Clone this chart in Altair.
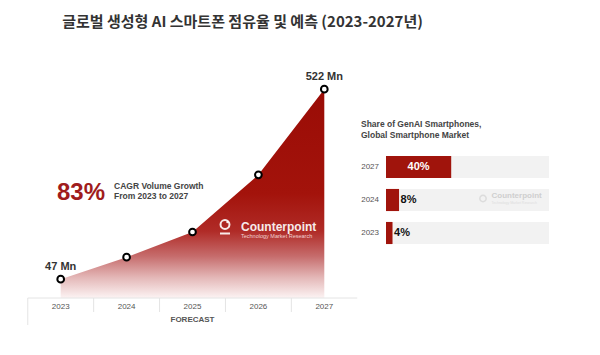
import altair as alt
import pandas as pd

# ---- data ----
years = [2023, 2024, 2025, 2026, 2027]
shipments_mn = [47, 102, 165, 308, 522]
share_years = ["2027", "2024", "2023"]
share_pct = [40, 8, 4]
full_share = [100, 100, 100]

title_text = "글로벌 생성형 AI 스마트폰 점유율 및 예측 (2023-2027년)"
cagr_big = "83%"
cagr_lines = ["CAGR Volume Growth", "From 2023 to 2027"]
bar_title = ["Share of GenAI Smartphones,", "Global Smartphone Market"]

LAT = "Liberation Sans"
KR = "Noto Sans CJK KR"
RED = "#a0140c"

df_ship = pd.DataFrame({"year": years, "ship": shipments_mn})
df_share = pd.DataFrame({"yr": share_years, "pct": share_pct, "full": full_share})
one = pd.DataFrame({"a": [0]})

# ---- left: area chart ----
xs = alt.Scale(domain=[2022.5, 2027.5], range=[19.75, 349.25])
ys = alt.Scale(domain=[0, 600], range=[290, 50])
X = alt.X("year:Q", scale=xs, axis=None)
Y = alt.Y("ship:Q", scale=ys, axis=None)

base = alt.Chart(df_ship)

grad = alt.Gradient(
    gradient="linear", x1=0, x2=0, y1=0, y2=1,
    stops=[
        alt.GradientStop(color="#9a0c06", offset=0),
        alt.GradientStop(color="#a3130b", offset=0.5),
        alt.GradientStop(color="#b02b27", offset=0.68),
        alt.GradientStop(color="#c66c6c", offset=0.8),
        alt.GradientStop(color="#e3b6b6", offset=0.9),
        alt.GradientStop(color="#fcf3f3", offset=1),
    ],
)
area = base.mark_area(fill=grad, interpolate="linear").encode(x=X, y=Y)

points = base.mark_point(
    shape="circle", filled=True, fill="white", stroke="black",
    strokeWidth=2, size=45, opacity=1
).encode(x=X, y=Y)

end_labels = base.transform_filter(
    "datum.year == 2023 || datum.year == 2027"
).transform_calculate(lbl="datum.ship + ' Mn'").mark_text(
    font=LAT, fontSize=11, fontWeight="bold", color="#333", dy=-12, baseline="middle"
).encode(x=X, y=Y, text="lbl:N")

seps = base.transform_calculate(b="datum.year - 0.5", b2="datum.year + 0.5")
sep_rules = seps.transform_filter("datum.year > 2023").mark_rule(
    color="#e4e4e4", strokeWidth=1
).encode(x=alt.X("b:Q", scale=xs, axis=None), y=alt.value(290), y2=alt.value(304))
left_edge = seps.transform_filter("datum.year == 2023").mark_rule(
    color="#e4e4e4", strokeWidth=1
).encode(x=alt.X("b:Q", scale=xs, axis=None), y=alt.value(290), y2=alt.value(317))
hline = seps.mark_rule(color="#e4e4e4", strokeWidth=1).encode(
    x=alt.X("b:Q", scale=xs, axis=None), x2="b2:Q", y=alt.value(290)
)

year_labels = base.mark_text(
    font=LAT, fontSize=8, color="#555", baseline="middle"
).encode(x=X, y=alt.value(299), text="year:N")

forecast = base.mark_text(
    font=LAT, fontSize=8, fontWeight="bold", color="#555", baseline="middle",
    text="FORECAST"
).encode(x=alt.X("mean(year):Q", scale=xs, axis=None), y=alt.value(312))

big = alt.Chart(one).mark_text(
    font=LAT, fontSize=24, fontWeight="bold", color="#a01c1c", align="left",
    baseline="alphabetic", text=cagr_big
).encode(x=alt.value(49), y=alt.value(192))
cagr1 = alt.Chart(one).mark_text(
    font=LAT, fontSize=8.5, fontWeight="bold", color="#444", align="left",
    baseline="middle", text=cagr_lines[0]
).encode(x=alt.value(106), y=alt.value(177.5))
cagr2 = alt.Chart(one).mark_text(
    font=LAT, fontSize=8.5, fontWeight="bold", color="#444", align="left",
    baseline="middle", text=cagr_lines[1]
).encode(x=alt.value(106), y=alt.value(188))

# watermark on area
wm_ring = alt.Chart(one).mark_point(
    shape="circle", filled=False, stroke="white", strokeWidth=2, size=80, opacity=0.9
).encode(x=alt.value(217), y=alt.value(216.5))
wm_dot = alt.Chart(one).mark_point(
    shape="circle", filled=True, color="white", size=6, opacity=0.9
).encode(x=alt.value(219.5), y=alt.value(214))
wm_base = alt.Chart(one).mark_rule(color="white", strokeWidth=2, opacity=0.9).encode(
    x=alt.value(212), x2=alt.value(222), y=alt.value(225.5)
)
wm_txt = alt.Chart(one).mark_text(
    font=LAT, fontSize=12, fontWeight="bold", color="white", align="left",
    baseline="middle", text="Counterpoint", opacity=0.9
).encode(x=alt.value(233), y=alt.value(218.5))
wm_sub = alt.Chart(one).mark_text(
    font=LAT, fontSize=5.5, color="#f2d2d2", align="left",
    baseline="middle", text="Technology Market Research"
).encode(x=alt.value(233), y=alt.value(228))

title = alt.Chart(one).mark_text(
    font=KR, fontSize=15, fontWeight="bold", color="#333", align="center",
    baseline="middle", text=title_text
).encode(x=alt.value(234.5), y=alt.value(14))

left = alt.layer(
    area, hline, sep_rules, left_edge, points, end_labels, year_labels, forecast,
    big, cagr1, cagr2, wm_ring, wm_dot, wm_base, wm_txt, wm_sub, title
)

# ---- right: bar chart ----
xs2 = alt.Scale(domain=[0, 100], range=[378, 541])
ys2 = alt.Scale(domain=share_years, range=[142.5, 241.5], paddingInner=0.33, paddingOuter=0.165)
Yb = alt.Y("yr:N", scale=ys2, axis=None, sort=share_years)
bbase = alt.Chart(df_share)

bg = bbase.mark_bar(color="#f2f2f2").encode(x=alt.X("full:Q", scale=xs2, axis=None), y=Yb)
bars = bbase.mark_bar(color=RED).encode(x=alt.X("pct:Q", scale=xs2, axis=None), y=Yb)
inside = bbase.transform_filter("datum.pct >= 20").transform_calculate(
    mid="datum.pct / 2", lbl="datum.pct + '%'"
).mark_text(font=LAT, fontSize=11, fontWeight="bold", color="white", baseline="middle").encode(
    x=alt.X("mid:Q", scale=xs2, axis=None), y=Yb, text="lbl:N"
)
outside = bbase.transform_filter("datum.pct < 20").transform_calculate(
    lbl="datum.pct + '%'"
).mark_text(font=LAT, fontSize=11, fontWeight="bold", color="#111", align="left",
            baseline="middle", dx=1.5).encode(
    x=alt.X("pct:Q", scale=xs2, axis=None), y=Yb, text="lbl:N"
)
ylabels = bbase.mark_text(font=LAT, fontSize=8, color="#555", align="right",
                          baseline="middle").encode(x=alt.value(371), y=Yb, text="yr:N")
bt1 = alt.Chart(one).mark_text(
    font=LAT, fontSize=8.5, fontWeight="bold", color="#444", align="left",
    baseline="middle", text=bar_title[0]
).encode(x=alt.value(353), y=alt.value(116))
bt2 = alt.Chart(one).mark_text(
    font=LAT, fontSize=8.5, fontWeight="bold", color="#444", align="left",
    baseline="middle", text=bar_title[1]
).encode(x=alt.value(353), y=alt.value(127))

wm2_ring = alt.Chart(one).mark_point(
    shape="circle", filled=False, stroke="#d4d4d4", strokeWidth=1.5, size=40
).encode(x=alt.value(475), y=alt.value(190.5))
wm2_txt = alt.Chart(one).mark_text(
    font=LAT, fontSize=8, fontWeight="bold", color="#cfcfcf", align="left",
    baseline="middle", text="Counterpoint"
).encode(x=alt.value(483.5), y=alt.value(188))
wm2_sub = alt.Chart(one).mark_text(
    font=LAT, fontSize=3.5, color="#dddddd", align="left",
    baseline="middle", text="Technology Market Research"
).encode(x=alt.value(483.5), y=alt.value(195))

right = alt.layer(bg, wm2_ring, wm2_txt, wm2_sub, bars, inside, outside, ylabels, bt1, bt2)

chart = alt.layer(left, right).resolve_scale(x="independent", y="independent").properties(
    width=580, height=335, padding=0
).configure_view(stroke=None)

chart.save("out.html", embed_options={"renderer": "svg", "actions": False})
